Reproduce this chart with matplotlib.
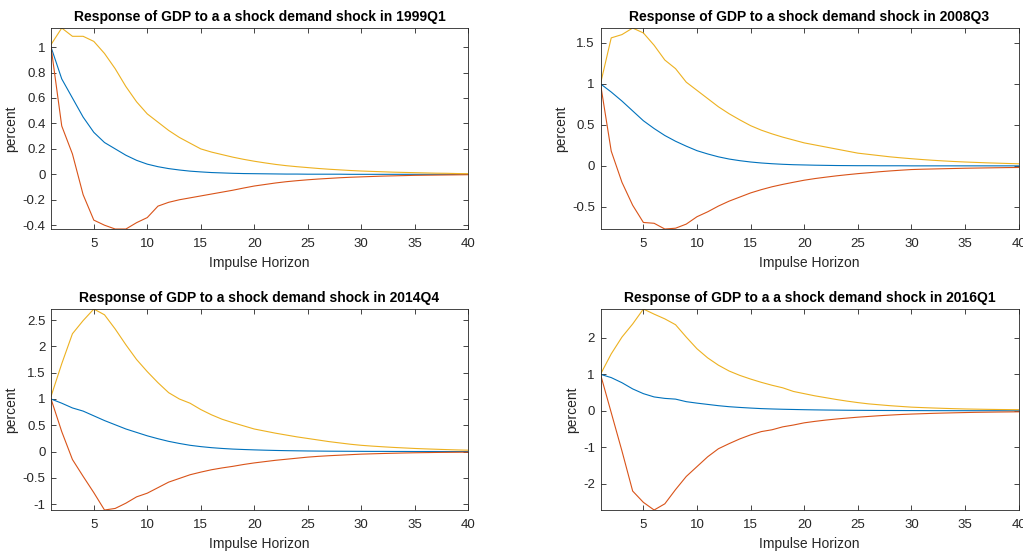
import numpy as np
import matplotlib
matplotlib.use("Agg")
import matplotlib.pyplot as plt
from matplotlib.ticker import MultipleLocator, FormatStrFormatter

plt.rcParams['font.family'] = ['Liberation Sans', 'DejaVu Sans']
plt.rcParams['axes.unicode_minus'] = False

horizon = np.arange(1, 41)

titles = [
    "Response of GDP to a a shock demand shock in 1999Q1",
    "Response of GDP to a shock demand shock in 2008Q3",
    "Response of GDP to a shock demand shock in 2014Q4",
    "Response of GDP to a a shock demand shock in 2016Q1",
]
ytick_steps = [0.2, 0.5, 0.5, 1.0]

# median response (blue)
median_1999 = [1.00, 0.75, 0.60, 0.45, 0.33, 0.25, 0.20, 0.15, 0.11, 0.08,
               0.06, 0.045, 0.034, 0.025, 0.019, 0.014, 0.011, 0.008, 0.006, 0.005,
               0.004, 0.003, 0.002, 0.002, 0.001, 0.001, 0.001, 0.001, 0.0, 0.0,
               0.0, 0.0, 0.0, 0.0, 0.0, 0.0, 0.0, 0.0, 0.0, 0.0]
median_2008 = [1.00, 0.90, 0.79, 0.67, 0.55, 0.455, 0.37, 0.30, 0.24, 0.185,
               0.145, 0.11, 0.083, 0.063, 0.047, 0.035, 0.026, 0.019, 0.014, 0.011,
               0.008, 0.006, 0.004, 0.003, 0.002, 0.002, 0.001, 0.001, 0.001, 0.0,
               0.0, 0.0, 0.0, 0.0, 0.0, 0.0, 0.0, 0.0, 0.0, 0.0]
median_2014 = [1.00, 0.92, 0.83, 0.77, 0.68, 0.59, 0.51, 0.43, 0.365, 0.30,
               0.245, 0.195, 0.155, 0.12, 0.095, 0.075, 0.06, 0.048, 0.04, 0.033,
               0.027, 0.022, 0.018, 0.015, 0.012, 0.01, 0.008, 0.007, 0.006, 0.005,
               0.004, 0.004, 0.003, 0.003, 0.002, 0.002, 0.002, 0.001, 0.001, 0.001]
median_2016 = [1.00, 0.91, 0.77, 0.60, 0.47, 0.38, 0.34, 0.32, 0.25, 0.21,
               0.175, 0.14, 0.112, 0.092, 0.075, 0.06, 0.05, 0.042, 0.036, 0.03,
               0.025, 0.021, 0.018, 0.015, 0.013, 0.011, 0.009, 0.008, 0.007, 0.006,
               0.005, 0.004, 0.004, 0.003, 0.003, 0.002, 0.002, 0.002, 0.001, 0.001]

# lower band (orange)
lower_1999 = [1.00, 0.38, 0.16, -0.16, -0.36, -0.40, -0.43, -0.43, -0.38, -0.34,
              -0.25, -0.22, -0.20, -0.185, -0.17, -0.155, -0.14, -0.125, -0.108, -0.092,
              -0.08, -0.068, -0.058, -0.05, -0.043, -0.037, -0.032, -0.027, -0.023, -0.02,
              -0.017, -0.014, -0.012, -0.01, -0.008, -0.007, -0.006, -0.005, -0.004, -0.003]
lower_2008 = [1.00, 0.18, -0.20, -0.48, -0.69, -0.70, -0.77, -0.76, -0.71, -0.62,
              -0.56, -0.49, -0.43, -0.38, -0.33, -0.29, -0.255, -0.226, -0.20, -0.175,
              -0.155, -0.138, -0.122, -0.108, -0.095, -0.084, -0.072, -0.062, -0.053, -0.045,
              -0.041, -0.038, -0.035, -0.032, -0.029, -0.027, -0.025, -0.023, -0.021, -0.02]
lower_2014 = [1.00, 0.38, -0.15, -0.47, -0.78, -1.11, -1.08, -0.98, -0.86, -0.79,
              -0.685, -0.58, -0.51, -0.44, -0.39, -0.345, -0.31, -0.28, -0.245, -0.215,
              -0.19, -0.165, -0.145, -0.125, -0.105, -0.09, -0.078, -0.068, -0.058, -0.048,
              -0.042, -0.036, -0.031, -0.026, -0.022, -0.019, -0.016, -0.014, -0.012, -0.01]
lower_2016 = [1.00, -0.05, -1.10, -2.20, -2.51, -2.72, -2.55, -2.16, -1.80, -1.53,
              -1.26, -1.04, -0.90, -0.77, -0.66, -0.57, -0.52, -0.44, -0.39, -0.33,
              -0.29, -0.255, -0.225, -0.2, -0.175, -0.155, -0.135, -0.118, -0.102, -0.09,
              -0.08, -0.07, -0.062, -0.055, -0.048, -0.042, -0.038, -0.034, -0.031, -0.028]

# upper band (yellow)
upper_1999 = [1.02, 1.15, 1.085, 1.085, 1.045, 0.95, 0.83, 0.69, 0.57, 0.475,
              0.41, 0.345, 0.29, 0.245, 0.20, 0.175, 0.155, 0.135, 0.118, 0.103,
              0.09, 0.078, 0.068, 0.06, 0.053, 0.046, 0.04, 0.035, 0.03, 0.026,
              0.023, 0.02, 0.017, 0.015, 0.013, 0.011, 0.009, 0.008, 0.006, 0.005]
upper_2008 = [1.00, 1.56, 1.60, 1.68, 1.62, 1.47, 1.29, 1.185, 1.02, 0.92,
              0.82, 0.72, 0.635, 0.56, 0.49, 0.435, 0.39, 0.35, 0.315, 0.28,
              0.255, 0.23, 0.205, 0.18, 0.155, 0.14, 0.125, 0.11, 0.098, 0.087,
              0.077, 0.068, 0.06, 0.053, 0.047, 0.042, 0.037, 0.033, 0.029, 0.025]
upper_2014 = [1.05, 1.67, 2.24, 2.49, 2.71, 2.60, 2.33, 2.03, 1.75, 1.52,
              1.31, 1.12, 1.00, 0.92, 0.80, 0.70, 0.615, 0.55, 0.49, 0.43,
              0.39, 0.35, 0.315, 0.28, 0.25, 0.22, 0.19, 0.165, 0.14, 0.12,
              0.105, 0.092, 0.08, 0.07, 0.06, 0.052, 0.045, 0.038, 0.032, 0.027]
upper_2016 = [1.00, 1.56, 2.02, 2.38, 2.79, 2.65, 2.52, 2.36, 2.02, 1.70,
              1.45, 1.25, 1.09, 0.97, 0.87, 0.78, 0.70, 0.63, 0.53, 0.47,
              0.41, 0.36, 0.31, 0.265, 0.225, 0.19, 0.165, 0.14, 0.12, 0.10,
              0.088, 0.077, 0.067, 0.058, 0.05, 0.045, 0.04, 0.036, 0.033, 0.03]

medians = [median_1999, median_2008, median_2014, median_2016]
lowers = [lower_1999, lower_2008, lower_2014, lower_2016]
uppers = [upper_1999, upper_2008, upper_2014, upper_2016]

# matlab default colour order
c_blue = (0.0, 0.447, 0.741)
c_orange = (0.85, 0.325, 0.098)
c_yellow = (0.929, 0.694, 0.125)
axcol = (0.15, 0.15, 0.15)

# axes rectangles [left, bottom, width, height] in figure fraction
positions = [
    [0.0499, 0.5866, 0.4076, 0.3628],
    [0.5870, 0.5866, 0.4087, 0.3628],
    [0.0499, 0.0794, 0.4076, 0.3628],
    [0.5870, 0.0794, 0.4087, 0.3628],
]

fig = plt.figure(figsize=(10.23, 5.54), dpi=100)

for i in range(4):
    ax = fig.add_axes(positions[i])
    ax.plot(horizon, medians[i], color=c_blue, lw=0.8)
    ax.plot(horizon, lowers[i], color=c_orange, lw=0.8)
    ax.plot(horizon, uppers[i], color=c_yellow, lw=0.8)

    # axis tight
    lo = min(min(lowers[i]), min(medians[i]), min(uppers[i]))
    hi = max(max(lowers[i]), max(medians[i]), max(uppers[i]))
    ax.set_xlim(1, 40)
    ax.set_ylim(lo, hi)

    ax.xaxis.set_major_locator(MultipleLocator(5))
    ax.yaxis.set_major_locator(MultipleLocator(ytick_steps[i]))
    ax.yaxis.set_major_formatter(FormatStrFormatter('%g'))
    ax.tick_params(direction='in', top=True, right=True, length=3.5, width=0.6,
                   labelsize=9.5, colors=axcol)
    ax.tick_params(axis='x', pad=6.5)
    ax.tick_params(axis='y', pad=4)
    for sp in ax.spines.values():
        sp.set_color(axcol)
        sp.set_linewidth(0.6)

    ax.set_title(titles[i], fontsize=10, fontweight='bold', pad=5)
    ax.set_xlabel("Impulse Horizon", fontsize=10, color=axcol, labelpad=4)
    ax.set_ylabel("percent", fontsize=10, color=axcol, labelpad=3)

fig.savefig("out.png", dpi=100, facecolor='white')
